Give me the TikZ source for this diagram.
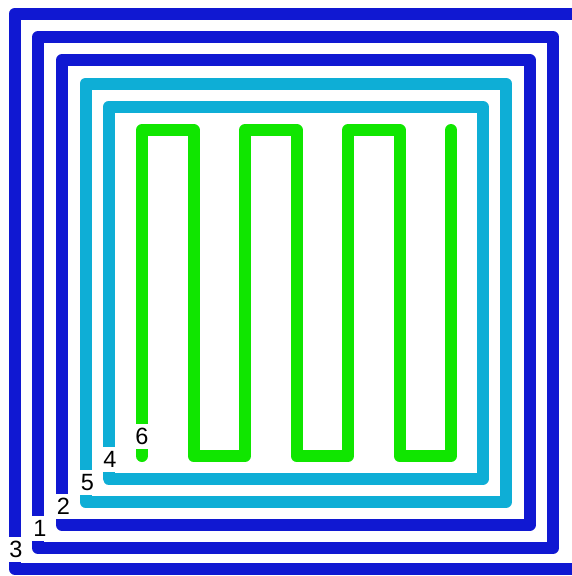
\documentclass[tikz,border=0pt]{standalone}
\usepackage{fontspec}
\setmainfont{Liberation Sans}
\definecolor{dblue}{RGB}{16,24,210}
\definecolor{lblue}{RGB}{14,174,214}
\definecolor{lgreen}{RGB}{16,230,0}
\begin{document}
\begin{tikzpicture}[x=1pt,y=-1pt,
  loop/.style={line width=12pt,line join=round,line cap=round},
  lbl/.style={fill=white,font=\fontsize{23.5}{23.5}\selectfont,inner sep=2pt,minimum height=25pt,minimum width=18pt,text depth=0pt}]
\useasboundingbox (0,0) rectangle (572,576);
\clip (0,0) rectangle (572,576);
\fill[white] (0,0) rectangle (572,576);
% outer loops
\draw[loop,dblue] (15,549) -- (15,13.5) -- (600,13.5) -- (600,569) -- (15,569) -- cycle;
\draw[loop,dblue] (38,528) -- (38,37) -- (553,37) -- (553,548) -- (38,548) -- cycle;
\draw[loop,dblue] (62,506) -- (62,60) -- (529.5,60) -- (529.5,525) -- (62,525) -- cycle;
\draw[loop,lblue] (85.5,482.5) -- (85.5,83.5) -- (506,83.5) -- (506,502) -- (85.5,502) -- cycle;
\draw[loop,lblue] (108.5,459.5) -- (108.5,107) -- (483,107) -- (483,478.5) -- (108.5,478.5) -- cycle;
% serpentine
\draw[loop,lgreen] (142,456) -- (142,130) -- (193.5,130) -- (193.5,456) -- (245,456) -- (245,130)
  -- (296.5,130) -- (296.5,456) -- (348,456) -- (348,130) -- (399.5,130) -- (399.5,456)
  -- (451,456) -- (451,130);
% labels
\node[lbl] (l3) at (16,549.5) {3};
\node[lbl] (l1) at (40,528.5) {1};
\node[lbl] (l2) at (63.5,506) {2};
\node[lbl] (l5) at (87.5,482.5) {5};
\node[lbl] (l4) at (110,459.5) {4};
\node[lbl] (l6) at (142,436) {6};
\end{tikzpicture}
\end{document}
